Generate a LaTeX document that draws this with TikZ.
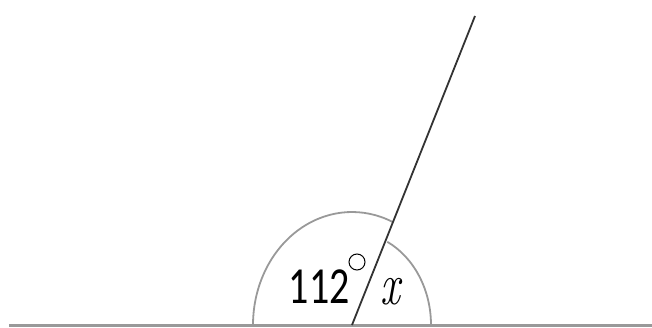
\documentclass[tikz,border=0pt]{standalone}
\usepackage{fontspec}
\newfontfamily\calfont{Carlito}
\usetikzlibrary{calc}
\tikzset{
  groundln/.style={draw=black!40,line width=3pt},
  rayln/.style={draw=black!80,line width=1.8pt},
  anglarc/.style={draw=black!40,line width=1.8pt},
  anglbl/.style={inner sep=0pt,anchor=base west},
  degmark/.style={draw,circle,minimum size=16pt,inner sep=0pt,line width=1pt},
}
\begin{document}
\begin{tikzpicture}[x=1pt,y=1pt]
\useasboundingbox (0,0) rectangle (652,327);
\coordinate (gl) at (9,2);
\coordinate (gr) at (652,2);
\coordinate (foot) at (352,2);
\coordinate (tip) at (475,311);
\draw[groundln] (gl) -- (gr);
\draw[anglarc] ($(foot)+(-99,0)$) arc[start angle=180,end angle=66,x radius=99,y radius=113];
\draw[anglarc] ($(foot)+(79,0)$) arc[start angle=0,end angle=63.5,x radius=79,y radius=93];
\draw[rayln] (foot) -- (tip);
\node[anglbl,anchor=base east,font=\calfont\fontsize{40}{40}\selectfont] (ang112) at (350,24) {\scalebox{1}[1.3]{112}};
\node[degmark] (deg) at (357,65) {};
\node[anglbl,font=\fontsize{44}{44}\selectfont\itshape] (angx) at (380,23) {\scalebox{1}[1.35]{x}};
\end{tikzpicture}
\end{document}
